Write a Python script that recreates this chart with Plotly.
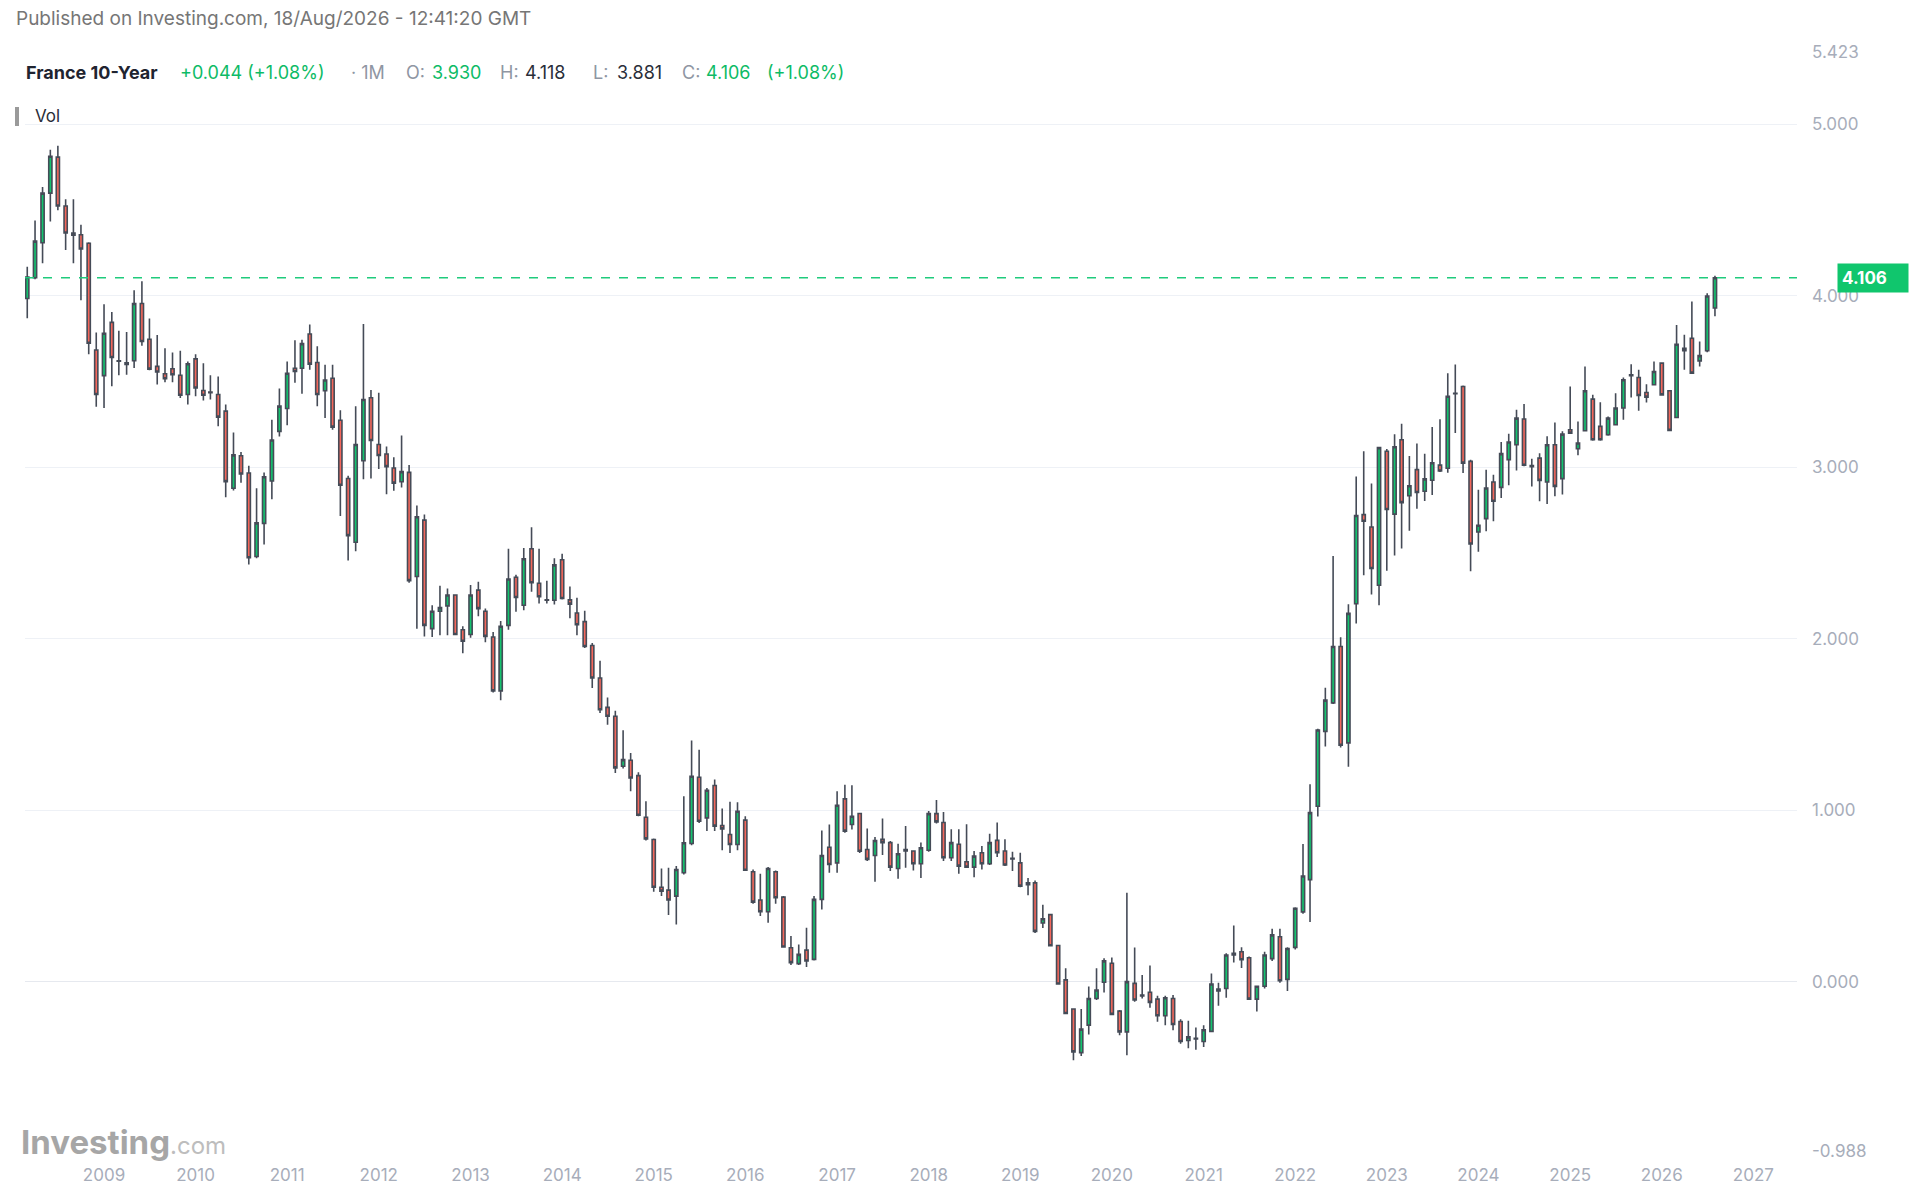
import pandas as pd
import plotly.graph_objects as go

# monthly candles, Mar 2008 .. Aug 2026 (France 10Y yield, %)
opens = [
    3.985, 4.106, 4.31, 4.60, 4.81, 4.525, 4.367, 4.357, 4.307, 3.685,
    3.535, 3.846, 3.62, 3.61, 3.622, 3.956, 3.747, 3.589, 3.546, 3.575, 3.537, 3.425,
    3.633, 3.448, 3.44, 3.425, 3.328, 2.878, 3.068, 2.967, 2.48, 2.673, 2.92, 3.21,
    3.343, 3.578, 3.578, 3.778, 3.612, 3.447, 3.52, 3.275, 2.935, 2.563, 3.039, 3.406,
    3.133, 3.078, 2.996, 2.916, 2.971, 2.363, 2.692, 2.059, 2.161, 2.192, 2.255, 2.053,
    2.025, 2.284, 2.161, 2.01, 1.696, 2.078, 2.359, 2.196, 2.525, 2.324, 2.227, 2.225,
    2.461, 2.227, 2.15, 2.10, 1.961, 1.771, 1.60, 1.548, 1.256, 1.291, 1.202, 0.959,
    0.829, 0.551, 0.534, 0.499, 0.635, 0.806, 1.192, 0.955, 1.144, 0.911, 0.858, 0.80,
    0.942, 0.641, 0.476, 0.408, 0.641, 0.493, 0.198, 0.105, 0.184, 0.13, 0.48, 0.784,
    0.693, 1.066, 0.917, 0.981, 0.771, 0.736, 0.83, 0.811, 0.66, 0.771, 0.762, 0.688,
    0.766, 0.98, 0.928, 0.723, 0.801, 0.699, 0.668, 0.752, 0.688, 0.824, 0.762, 0.719,
    0.693, 0.566, 0.576, 0.342, 0.391, 0.211, 0.01, -0.16, -0.414, -0.254, -0.098, -0.004,
    0.107, -0.172, -0.293, -0.01, -0.078, -0.062, -0.102, -0.199, -0.098, -0.233, -0.343, -0.335,
    -0.349, -0.29, -0.054, -0.04, 0.155, 0.174, 0.139, -0.102, -0.027, 0.134, 0.262, 0.013,
    0.2, 0.407, 0.595, 1.023, 1.46, 1.626, 1.955, 1.393, 2.204, 2.724, 2.652, 2.312,
    3.094, 2.727, 3.161, 2.834, 2.987, 2.861, 2.925, 3.013, 2.995, 3.432, 3.472, 3.035,
    2.623, 2.701, 2.915, 2.883, 3.045, 3.132, 3.282, 3.01, 3.054, 2.915, 3.132, 2.934,
    3.219, 3.109, 3.214, 3.398, 3.239, 3.19, 3.249, 3.346, 3.534, 3.524, 3.437, 3.482,
    3.608, 3.447, 3.291, 3.68, 3.753, 3.621, 3.68, 3.93,
]
highs = [
    4.17, 4.44, 4.635, 4.853, 4.876, 4.564, 4.564, 4.415, 4.313, 3.786,
    3.952, 3.907, 3.797, 3.79, 4.033, 4.085, 3.869, 3.772, 3.695, 3.67, 3.68, 3.618,
    3.66, 3.608, 3.537, 3.53, 3.367, 3.203, 3.09, 3.01, 2.878, 2.97, 3.278, 3.46,
    3.618, 3.741, 3.745, 3.833, 3.706, 3.598, 3.598, 3.333, 2.951, 3.357, 3.837, 3.451,
    3.435, 3.122, 3.059, 3.186, 3.014, 2.778, 2.725, 2.196, 2.31, 2.294, 2.26, 2.073,
    2.314, 2.333, 2.176, 2.039, 2.104, 2.525, 2.373, 2.529, 2.651, 2.525, 2.339, 2.47,
    2.496, 2.305, 2.24, 2.163, 1.975, 1.872, 1.658, 1.58, 1.466, 1.334, 1.221, 1.052,
    0.835, 0.66, 0.664, 0.674, 1.082, 1.406, 1.353, 1.13, 1.179, 1.01, 1.049, 1.047,
    0.965, 0.654, 0.629, 0.668, 0.649, 0.499, 0.266, 0.217, 0.314, 0.499, 0.882, 0.917,
    1.111, 1.149, 1.146, 0.984, 0.893, 0.843, 0.951, 0.82, 0.805, 0.908, 0.766, 0.811,
    0.996, 1.059, 0.99, 0.889, 0.889, 0.918, 0.762, 0.791, 0.863, 0.928, 0.83, 0.758,
    0.752, 0.605, 0.59, 0.449, 0.396, 0.215, 0.078, -0.156, -0.16, -0.029, 0.078, 0.137,
    0.141, -0.166, 0.518, 0.199, 0.039, 0.094, -0.082, -0.082, -0.078, -0.22, -0.228, -0.268,
    -0.255, 0.048, -0.006, 0.166, 0.327, 0.2, 0.147, -0.022, 0.174, 0.308, 0.308, 0.2,
    0.434, 0.803, 1.152, 1.475, 1.714, 2.483, 2.009, 2.202, 2.946, 3.094, 2.906, 3.12,
    3.107, 3.193, 3.254, 3.067, 3.139, 3.08, 3.236, 3.281, 3.549, 3.60, 3.478, 3.045,
    2.87, 2.986, 2.957, 3.148, 3.196, 3.336, 3.369, 3.05, 3.083, 3.181, 3.262, 3.21,
    3.472, 3.268, 3.588, 3.423, 3.38, 3.297, 3.433, 3.524, 3.602, 3.569, 3.485, 3.617,
    3.608, 3.452, 3.831, 3.773, 3.967, 3.734, 4.016, 4.118,
]
lows = [
    3.87, 4.097, 4.19, 4.434, 4.50, 4.268, 4.19, 3.975, 3.66, 3.353,
    3.347, 3.473, 3.537, 3.54, 3.58, 3.71, 3.566, 3.483, 3.496, 3.496, 3.405, 3.367,
    3.415, 3.39, 3.396, 3.24, 2.826, 2.865, 2.91, 2.434, 2.47, 2.55, 2.814, 3.18,
    3.245, 3.494, 3.43, 3.569, 3.357, 3.288, 3.22, 2.716, 2.457, 2.51, 2.931, 2.935,
    2.99, 2.843, 2.863, 2.882, 2.327, 2.059, 2.014, 2.01, 2.02, 2.02, 2.02, 1.916,
    2.006, 2.131, 1.98, 1.686, 1.641, 2.053, 2.157, 2.167, 2.275, 2.206, 2.206, 2.20,
    2.229, 2.12, 2.02, 1.946, 1.713, 1.567, 1.499, 1.217, 1.243, 1.11, 0.965, 0.823,
    0.524, 0.499, 0.388, 0.334, 0.625, 0.796, 0.926, 0.878, 0.878, 0.767, 0.751, 0.767,
    0.645, 0.454, 0.383, 0.344, 0.454, 0.198, 0.097, 0.097, 0.085, 0.124, 0.421, 0.635,
    0.635, 0.868, 0.887, 0.751, 0.703, 0.583, 0.738, 0.645, 0.60, 0.664, 0.648, 0.605,
    0.758, 0.922, 0.703, 0.703, 0.629, 0.664, 0.609, 0.654, 0.68, 0.727, 0.674, 0.645,
    0.551, 0.504, 0.283, 0.313, 0.205, -0.016, -0.191, -0.459, -0.434, -0.309, -0.107, -0.063,
    -0.195, -0.313, -0.43, -0.117, -0.098, -0.152, -0.234, -0.254, -0.283, -0.362, -0.389, -0.397,
    -0.381, -0.295, -0.14, -0.094, 0.112, 0.08, -0.107, -0.174, -0.04, 0.12, -0.006, -0.054,
    0.187, 0.396, 0.348, 0.964, 1.371, 1.62, 1.366, 1.253, 2.089, 2.37, 2.258, 2.196,
    2.397, 2.486, 2.526, 2.63, 2.759, 2.804, 2.839, 2.973, 2.968, 3.20, 2.967, 2.394,
    2.507, 2.627, 2.685, 2.821, 2.895, 2.982, 3.006, 2.889, 2.802, 2.786, 2.831, 2.841,
    3.195, 3.07, 3.21, 3.155, 3.155, 3.184, 3.249, 3.278, 3.408, 3.33, 3.379, 3.478,
    3.419, 3.21, 3.287, 3.569, 3.544, 3.588, 3.672, 3.881,
]
closes = [
    4.11, 4.32, 4.60, 4.815, 4.525, 4.367, 4.355, 4.274, 3.724, 3.425,
    3.782, 3.641, 3.622, 3.60, 3.956, 3.734, 3.573, 3.556, 3.517, 3.54, 3.421, 3.604,
    3.463, 3.421, 3.436, 3.293, 2.917, 3.073, 2.961, 2.473, 2.676, 2.945, 3.16, 3.357,
    3.549, 3.559, 3.722, 3.602, 3.425, 3.51, 3.235, 2.896, 2.602, 3.133, 3.396, 3.157,
    3.069, 3.004, 2.908, 2.975, 2.339, 2.712, 2.078, 2.161, 2.182, 2.255, 2.025, 1.986,
    2.255, 2.176, 2.014, 1.696, 2.073, 2.349, 2.241, 2.467, 2.327, 2.245, 2.225, 2.431,
    2.235, 2.202, 2.082, 1.955, 1.771, 1.586, 1.548, 1.247, 1.295, 1.188, 0.971, 0.833,
    0.551, 0.528, 0.476, 0.654, 0.81, 1.198, 0.936, 1.116, 0.907, 0.891, 0.80, 0.994,
    0.65, 0.464, 0.408, 0.66, 0.489, 0.202, 0.111, 0.159, 0.12, 0.48, 0.736, 0.683,
    1.029, 0.878, 0.965, 0.761, 0.713, 0.823, 0.811, 0.668, 0.746, 0.762, 0.688, 0.781,
    0.98, 0.932, 0.723, 0.811, 0.674, 0.668, 0.732, 0.688, 0.811, 0.752, 0.68, 0.715,
    0.557, 0.576, 0.293, 0.367, 0.209, -0.014, -0.186, -0.41, -0.277, -0.098, -0.049, 0.121,
    -0.191, -0.293, 0.0, -0.107, -0.084, -0.121, -0.199, -0.094, -0.25, -0.349, -0.322, -0.33,
    -0.281, -0.014, -0.043, 0.155, 0.166, 0.128, -0.102, -0.027, 0.155, 0.273, 0.005, 0.193,
    0.428, 0.616, 0.986, 1.468, 1.642, 1.955, 1.379, 2.148, 2.719, 2.686, 2.41, 3.115,
    2.754, 3.12, 2.794, 2.893, 2.853, 2.933, 3.027, 2.979, 3.415, 3.43, 3.025, 2.553,
    2.662, 2.88, 2.802, 3.08, 3.148, 3.287, 3.012, 3.004, 2.924, 3.132, 2.889, 3.194,
    3.20, 3.142, 3.447, 3.161, 3.161, 3.287, 3.346, 3.511, 3.54, 3.419, 3.41, 3.559,
    3.423, 3.216, 3.718, 3.695, 3.55, 3.652, 4.0, 4.106,
]

first_month = "2008-03-01"
years = list(range(2009, 2028))
ytick_vals = [-0.988, 0, 1, 2, 3, 4, 5, 5.423]
last_close = 4.106

# colours
UP = "#12c46e"
DOWN = "#f4675b"
EDGE = "#454b57"
GREEN_TXT = "#0dbb66"
AXIS_TXT = "#a7adba"
GRID = "#eef1f6"

W, H = 1920, 1203
L, R, T, B = 25, 1797, 52, 1151  # plot box on the page, px


def px(x):
    return (x - L) / (R - L)


def py(y):
    return (B - y) / (B - T)


dates = pd.date_range(first_month, periods=len(closes), freq="MS")

fig = go.Figure(go.Candlestick(
    x=dates, open=opens, high=highs, low=lows, close=closes,
    increasing=dict(line=dict(color=EDGE, width=1.6), fillcolor=UP),
    decreasing=dict(line=dict(color=EDGE, width=1.6), fillcolor=DOWN),
    whiskerwidth=0, showlegend=False,
))

# header bits: (text, left x px, colour, bold)
header = [
    ("France 10-Year", 24, "#1f2430", True),
    ("+0.044 (+1.08%)", 178, GREEN_TXT, False),
    ("· 1M", 349, "#8f96a3", False),
    ("O:", 404, "#8f96a3", False),
    ("3.930", 430, GREEN_TXT, False),
    ("H:", 498, "#8f96a3", False),
    ("4.118", 523, "#2a2e39", False),
    ("L:", 591, "#8f96a3", False),
    ("3.881", 615, "#2a2e39", False),
    ("C:", 680, "#8f96a3", False),
    ("4.106", 704, GREEN_TXT, False),
    ("(+1.08%)", 765, GREEN_TXT, False),
]

ann = [dict(text="Published on Investing.com, 18/Aug/2026 - 12:41:20 GMT",
            x=px(14), y=py(19), xanchor="left", yanchor="middle",
            font=dict(size=19, color="#767676"))]
for txt, x0, col, bold in header:
    ann.append(dict(text=f"<b>{txt}</b>" if bold else txt,
                    x=px(x0), y=py(72), xanchor="left", yanchor="middle",
                    font=dict(size=18, color=col)))
ann.append(dict(text="Vol", x=px(33), y=py(116), xanchor="left", yanchor="middle",
                font=dict(size=17, color="#2a2e39")))
ann.append(dict(text="<b>Investing</b><span style='font-size:24px;color:#bdbdbd'>.com</span>",
                x=px(19), y=py(1142), xanchor="left", yanchor="middle",
                font=dict(size=33, color="#a6a6a6")))
ann.append(dict(text=f"<b>{last_close:.3f}</b>", x=px(1837), y=last_close, yref="y",
                xanchor="left", yanchor="middle", align="left", width=62,
                bgcolor="#10c66d", borderpad=4, font=dict(size=17, color="white")))
for a in ann:
    a.setdefault("xref", "paper")
    a.setdefault("yref", "paper")
    a["showarrow"] = False

shapes = [
    # white box behind the legend hides the top grid line there
    dict(type="rect", xref="paper", yref="paper", x0=px(0), x1=px(860),
         y0=py(62), y1=py(44), fillcolor="white", line=dict(width=0), layer="above"),
    dict(type="rect", xref="paper", yref="paper", x0=px(15), x1=px(19),
         y0=py(126), y1=py(107), fillcolor="#9a9a9a", line=dict(width=0)),
    dict(type="line", xref="paper", yref="y", x0=0, x1=1, y0=last_close, y1=last_close,
         line=dict(color="#1fcb7c", width=1.5, dash="dash")),
]

fig.update_layout(
    width=W, height=H,
    margin=dict(l=L, r=W - R, t=T, b=H - B),
    paper_bgcolor="white", plot_bgcolor="white",
    font=dict(family="Inter, Roboto, sans-serif"),
    boxgap=0.35,
    annotations=ann, shapes=shapes,
    xaxis=dict(
        type="date", range=["2008-02-21", "2027-06-24"],
        rangeslider=dict(visible=False), showgrid=False, zeroline=False,
        tickvals=[f"{y}-01-01" for y in years], ticktext=[str(y) for y in years],
        tickfont=dict(size=17, color=AXIS_TXT), ticks="", ticklabelstandoff=12,
    ),
    yaxis=dict(
        side="right", range=[ytick_vals[0], ytick_vals[-1]],
        tickvals=ytick_vals, ticktext=[f"{v:.3f}" for v in ytick_vals],
        tickfont=dict(size=17, color=AXIS_TXT), ticks="", ticklabelstandoff=14,
        showgrid=True, gridcolor=GRID, gridwidth=1.2,
        zeroline=True, zerolinecolor="#e6e9ef", zerolinewidth=1.2,
    ),
)

fig.write_html("out.html", config={"displayModeBar": False},
               post_script="document.body.style.margin='0px';")
